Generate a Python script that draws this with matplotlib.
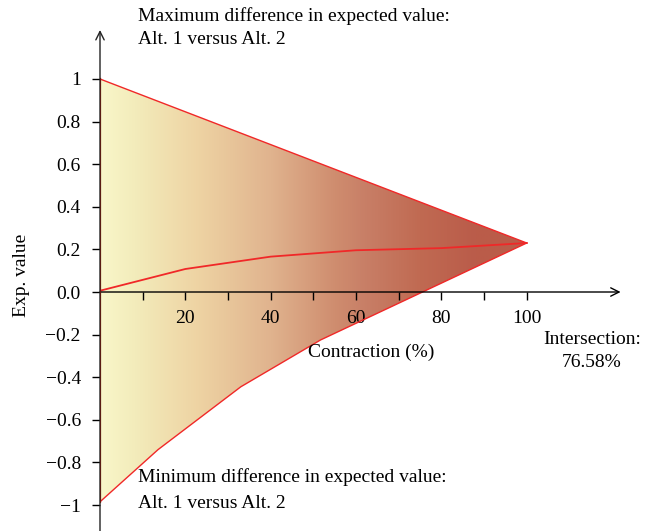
import numpy as np
import matplotlib
matplotlib.use('Agg')
from matplotlib import pyplot as plt
from matplotlib.colors import LinearSegmentedColormap
from matplotlib.patches import Polygon

# Data
upper_x = [0, 20, 40, 60, 80, 100]
upper_y = [1.0, 0.846, 0.692, 0.538, 0.384, 0.23]
mid_x = [0, 20, 40, 60, 80, 100]
mid_y = [0.006, 0.108, 0.166, 0.196, 0.206, 0.23]
lower_x = [0, 13.6, 33, 51.7, 100]
lower_y = [-0.985, -0.74, -0.445, -0.225, 0.23]
xticks = [10, 20, 30, 40, 50, 60, 70, 80, 90, 100]
xtick_labels = ['', '20', '', '40', '', '60', '', '80', '', '100']
yticks = [1, 0.8, 0.6, 0.4, 0.2, 0, -0.2, -0.4, -0.6, -0.8, -1]
ytick_labels = ['1', '0.8', '0.6', '0.4', '0.2', '0.0',
                '\u22120.2', '\u22120.4', '\u22120.6', '\u22120.8', '\u22121']
intersection = 76.58

plt.rcParams['font.family'] = ['Liberation Serif', 'DejaVu Serif']
fs = 14
dpi = 100
fig = plt.figure(figsize=(662 / dpi, 531 / dpi), dpi=dpi)
ax = fig.add_axes([100 / 662, 0, 520.6 / 662, 501 / 531])
ax.set_xlim(0, 122)
ax.set_ylim(-1.122, 1.23)

# gradient filled region between upper and lower bounds
cmap = LinearSegmentedColormap.from_list('grad', [
    (0.0, '#f9f7c9'), (0.08, '#f3ecbb'), (0.23, '#eed3a3'), (0.4, '#e0b38e'),
    (0.55, '#cf8d6f'), (0.62, '#c87f67'), (0.75, '#c06a52'), (0.88, '#ba5c4a'),
    (1.0, '#bb5c49')])
verts = np.column_stack([np.concatenate([upper_x, lower_x[::-1]]),
                         np.concatenate([upper_y, lower_y[::-1]])])
poly = Polygon(verts, closed=True, facecolor='none', edgecolor='none')
ax.add_patch(poly)
grad = np.linspace(0, 1, 256).reshape(1, -1)
im = ax.imshow(grad, cmap=cmap, aspect='auto', extent=(0, 100, -1, 1.0),
               origin='lower', zorder=1, interpolation='bilinear')
im.set_clip_path(poly)

ax.plot(upper_x, upper_y, color='#f02828', lw=1.0, zorder=3)
ax.plot(mid_x, mid_y, color='#f02828', lw=1.3, zorder=3)
ax.plot(lower_x, lower_y, color='#f02828', lw=1.0, zorder=3)
ax.plot([0, 0], [upper_y[0], lower_y[0]], color='#5a1c12', lw=1.6, zorder=4)

# axes through origin with arrows
for s in ['top', 'right', 'left', 'bottom']:
    ax.spines[s].set_visible(False)
ax.annotate('', xy=(122, 0), xytext=(0, 0),
            arrowprops=dict(arrowstyle='->,head_length=0.6,head_width=0.3',
                            color='black', lw=1, shrinkA=0, shrinkB=0))
ax.annotate('', xy=(0, 1.23), xytext=(0, -1.122),
            arrowprops=dict(arrowstyle='->,head_length=0.6,head_width=0.3',
                            color='#222222', lw=1, shrinkA=0, shrinkB=0))
ax.patch.set_visible(False)

ax.spines['bottom'].set_position(('data', 0))
ax.spines['left'].set_position(('data', 0))
ax.xaxis.set_ticks_position('bottom')
ax.yaxis.set_ticks_position('left')
ax.set_xticks(xticks)
ax.set_xticklabels(xtick_labels)
ax.set_yticks(yticks)
ax.set_yticklabels(ytick_labels)
ax.tick_params(axis='x', direction='out', length=5.8, width=1, pad=7, labelsize=fs)
ax.tick_params(axis='y', direction='out', length=5.8, width=1, pad=8, labelsize=fs)

# annotations
ax.text(8.9, 1.272, 'Maximum difference in expected value:', fontsize=fs, va='baseline')
ax.text(8.9, 1.162, 'Alt. 1 versus Alt. 2', fontsize=fs, va='baseline')
ax.text(8.9, -0.89, 'Minimum difference in expected value:', fontsize=fs, va='baseline')
ax.text(8.9, -1.012, 'Alt. 1 versus Alt. 2', fontsize=fs, va='baseline')
ax.text(63.5, -0.305, 'Contraction (%)', fontsize=fs, va='baseline', ha='center')
ax.text(115.3, -0.245, 'Intersection:', fontsize=fs, va='baseline', ha='center')
ax.text(115.3, -0.352, '{:.2f}%'.format(intersection), fontsize=fs,
        va='baseline', ha='center')
fig.text(22 / 662, 1 - 275 / 531, 'Exp. value', fontsize=fs, rotation=90,
         ha='center', va='center')

fig.savefig('out.png', dpi=dpi)
